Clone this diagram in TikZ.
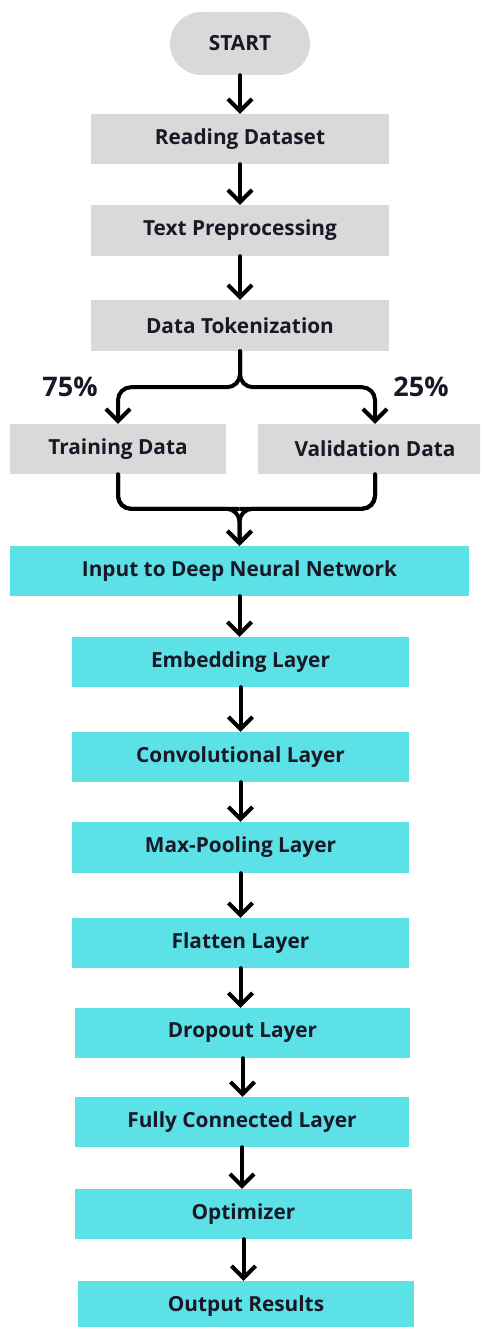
\documentclass[tikz,border=0pt]{standalone}
\usepackage{fontspec}
\setmainfont{Open Sans}
\usetikzlibrary{arrows.meta}
\definecolor{boxgray}{HTML}{D9D9D9}
\definecolor{boxcyan}{HTML}{5CE1E6}
\definecolor{ink}{RGB}{24,24,38}
\tikzset{
  stagebox/.style={rectangle, inner sep=0pt, text=ink,
    font=\fontsize{20.8}{25}\selectfont\bfseries},
  graybox/.style={stagebox, fill=boxgray},
  cyanbox/.style={stagebox, fill=boxcyan},
  flow/.style={line width=4pt, draw=black, line cap=round,
    -{Straight Barb[length=12pt,width=24pt]}},
  joinline/.style={line width=4pt, draw=black, rounded corners=13pt},
  pct/.style={text=ink, font=\fontsize{27}{32}\selectfont\bfseries}
}
\begin{document}
\begin{tikzpicture}[x=1pt,y=-1pt]
\useasboundingbox (0,0) rectangle (480,1327);
\clip (0,0) rectangle (480,1327);

% data preparation stages
\node[graybox, minimum width=140pt, minimum height=63pt, rounded corners=31.5pt]
  (start) at (240,43.5) {START};
\node[graybox, minimum width=298pt, minimum height=50pt] (read) at (240,139) {Reading Dataset};
\node[graybox, minimum width=298pt, minimum height=51pt] (prep) at (240,230.5) {Text Preprocessing};
\node[graybox, minimum width=298pt, minimum height=51pt] (tok)  at (240,325.5) {Data Tokenization};
\node[graybox, minimum width=216pt, minimum height=50pt] (train) at (118,449) {Training Data};
\node[graybox, minimum width=234pt, minimum height=50pt] (valid) at (375,449) {Validation Data};

% network stages
\node[cyanbox, minimum width=459pt, minimum height=50pt] (inp)  at (239.5,571) {Input to Deep Neural Network};
\node[cyanbox, minimum width=337pt, minimum height=50pt] (emb)  at (240.5,662) {Embedding Layer};
\node[cyanbox, minimum width=337pt, minimum height=50pt] (conv) at (240.5,757) {Convolutional Layer};
\node[cyanbox, minimum width=337pt, minimum height=51pt] (pool) at (240.5,847.5) {Max-Pooling Layer};
\node[cyanbox, minimum width=337pt, minimum height=50pt] (flat) at (240.5,943) {Flatten Layer};
\node[cyanbox, minimum width=335pt, minimum height=50pt] (drop) at (242.5,1033) {Dropout Layer};
\node[cyanbox, minimum width=334pt, minimum height=50pt] (fc)   at (242,1122) {Fully Connected Layer};
\node[cyanbox, minimum width=337pt, minimum height=50pt] (opt)  at (243.5,1214) {Optimizer};
\node[cyanbox, minimum width=336pt, minimum height=50pt] (out)  at (246,1306) {Output Results};

% split percentages
\node[pct] (p75) at (70,387) {75\%};
\node[pct] (p25) at (421,387) {25\%};

% straight connectors
\foreach \a/\b in {start/read, read/prep, prep/tok, inp/emb, emb/conv,
                   conv/pool, pool/flat, flat/drop, drop/fc, fc/opt, opt/out}
  \draw[flow] (\a.south) -- (\a.south |- \b.north);

% split into training / validation
\path (tok.south) ++(0,36) coordinate (split);
\draw[flow, rounded corners=13pt] (tok.south) -- (split) -| (train.north);
\draw[flow, rounded corners=13pt] (tok.south) -- (split) -| (valid.north);

% merge back into the network input
\path (inp.north) ++(0,-37) coordinate (merge);
\draw[joinline] (train.south) |- (merge);
\draw[joinline] (valid.south) |- (merge);
\draw[flow, rounded corners=13pt] (train.south) |- (merge) -- (inp.north);
\draw[flow, rounded corners=13pt] (valid.south) |- (merge) -- (inp.north);
\end{tikzpicture}
\end{document}
